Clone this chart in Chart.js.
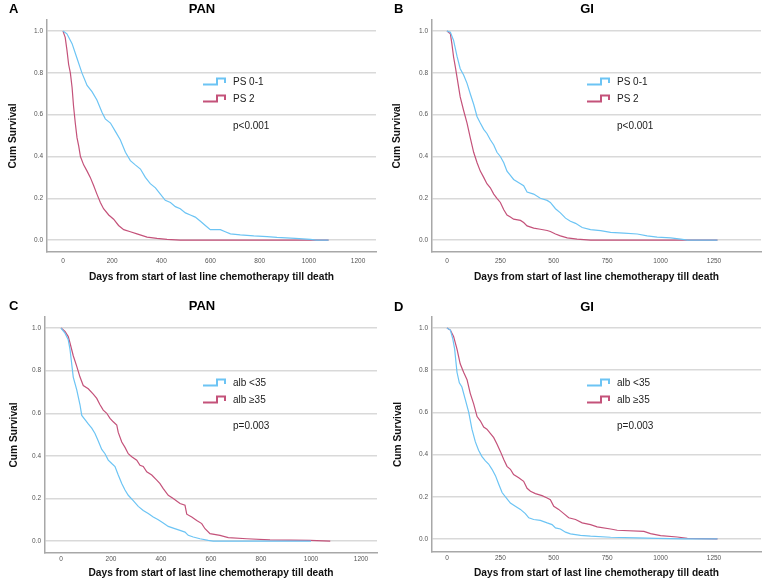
<!DOCTYPE html>
<html>
<head>
<meta charset="utf-8">
<script src="https://cdn.jsdelivr.net/npm/chart.js@4.4.0/dist/chart.umd.min.js"></script>
<style>
    body {
        margin: 0;
        width: 768px;
        height: 583px;
        overflow: hidden;
        position: relative;
        background: #ffffff;
        font-family: "Liberation Sans", Arial, sans-serif;
    }
    .panel { position: absolute; }
    .panel canvas { display: block; }
    .letter, .title {
        position: absolute;
        font-weight: bold;
        font-size: 13px;
        line-height: 16px;
        color: #000;
        white-space: nowrap;
    }
    .title { transform: translateX(-50%); }
</style>
</head>
<body>

<div class="panel" style="left:0;top:0"><canvas id="chartA" width="384" height="290"></canvas></div>
<div class="panel" style="left:384px;top:0"><canvas id="chartB" width="384" height="290"></canvas></div>
<div class="panel" style="left:0;top:290px"><canvas id="chartC" width="384" height="293"></canvas></div>
<div class="panel" style="left:384px;top:290px"><canvas id="chartD" width="384" height="293"></canvas></div>

<script>
// ---- data ----
const panelLetters = ["A", "B", "C", "D"];
const panelTitles = ["PAN", "GI", "PAN", "GI"];
const psLabels = ["PS 0-1", "PS 2"];
const albLabels = ["alb <35", "alb \u226535"];
const pValues = ["p<0.001", "p<0.001", "p=0.003", "p=0.003"];
const xAxisTitle = "Days from start of last line chemotherapy till death";
const yAxisTitle = "Cum Survival";

const panTicks = [0, 200, 400, 600, 800, 1000, 1200];
const giTicks = [0, 250, 500, 750, 1000, 1250];
const survivalTicks = [0, 0.2, 0.4, 0.6, 0.8, 1.0];

// A: PAN by PS
const panPs01Days = [0,16,37,57,77,98,118,138,159,172,193,213,233,254,274,294,315,335,355,376,396,416,437,457,477,498,518,538,559,579,599,640,660,681,721,776,830,870,945,1006,1030,1080];
const panPs01Surv = [1,0.987,0.94,0.87,0.80,0.74,0.71,0.67,0.61,0.58,0.56,0.52,0.48,0.42,0.38,0.36,0.34,0.30,0.27,0.25,0.22,0.19,0.18,0.16,0.15,0.13,0.12,0.11,0.09,0.07,0.05,0.05,0.04,0.03,0.025,0.02,0.017,0.013,0.008,0.003,0,0];
const panPs2Days = [0,9,16,23,30,37,43,50,57,64,71,84,98,111,125,138,152,165,186,206,226,247,274,301,342,382,423,477,1080];
const panPs2Surv = [1,0.97,0.91,0.84,0.80,0.73,0.64,0.56,0.49,0.45,0.40,0.36,0.33,0.30,0.26,0.22,0.18,0.15,0.12,0.10,0.07,0.05,0.04,0.03,0.014,0.008,0.003,0,0];

// B: GI by PS
const giPs01Days = [0,16,31,47,62,78,94,109,125,141,156,172,187,203,219,234,250,266,281,297,312,344,359,375,406,437,469,484,508,531,555,578,602,633,672,719,766,828,891,937,984,1047,1094,1125,1266];
const giPs01Surv = [1,0.995,0.955,0.88,0.82,0.79,0.75,0.70,0.65,0.59,0.56,0.53,0.51,0.48,0.455,0.42,0.40,0.37,0.33,0.31,0.29,0.27,0.26,0.23,0.22,0.20,0.19,0.18,0.15,0.13,0.105,0.09,0.08,0.06,0.05,0.045,0.037,0.033,0.029,0.02,0.014,0.011,0.005,0,0];
const giPs2Days = [0,16,23,31,39,47,62,78,94,109,125,141,156,172,187,203,219,234,250,266,281,297,312,344,359,375,406,437,469,484,508,531,563,609,672,1266];
const giPs2Surv = [1,0.987,0.94,0.876,0.83,0.78,0.685,0.62,0.56,0.49,0.42,0.37,0.33,0.30,0.27,0.25,0.22,0.20,0.18,0.145,0.12,0.11,0.10,0.094,0.084,0.068,0.057,0.052,0.046,0.041,0.029,0.02,0.011,0.005,0,0];

// C: PAN by albumin
const panAlbLowDays = [0,16,29,36,43,49,63,76,83,96,109,123,136,149,163,176,189,203,216,229,243,256,269,289,309,329,349,369,389,409,429,449,476,496,509,529,556,589,609,1000];
const panAlbLowSurv = [1,0.976,0.945,0.90,0.83,0.77,0.71,0.64,0.59,0.57,0.55,0.53,0.505,0.47,0.43,0.41,0.38,0.364,0.35,0.31,0.27,0.24,0.215,0.19,0.163,0.144,0.129,0.113,0.10,0.085,0.069,0.061,0.05,0.042,0.027,0.019,0.011,0.003,0,0];
const panAlbHighDays = [0,16,29,36,49,63,76,89,109,129,143,156,169,183,196,209,223,229,243,256,269,283,303,316,329,343,363,383,396,409,429,449,476,496,503,523,543,563,576,596,636,669,743,836,996,1077];
const panAlbHighSurv = [1,0.984,0.96,0.93,0.87,0.82,0.77,0.73,0.715,0.69,0.67,0.64,0.615,0.60,0.576,0.56,0.545,0.51,0.465,0.44,0.41,0.396,0.38,0.356,0.35,0.325,0.31,0.286,0.27,0.246,0.215,0.20,0.176,0.168,0.126,0.113,0.097,0.082,0.058,0.035,0.027,0.016,0.011,0.006,0.003,0];

// D: GI by albumin
const giAlbLowDays = [0,16,27,36,47,58,70,86,102,117,133,148,164,180,195,211,227,242,258,273,297,320,344,367,383,406,437,469,492,508,531,555,578,625,672,766,891,984,1109,1266];
const giAlbLowSurv = [1,0.99,0.95,0.90,0.79,0.74,0.72,0.66,0.60,0.52,0.46,0.42,0.39,0.37,0.355,0.33,0.30,0.26,0.22,0.20,0.17,0.155,0.14,0.12,0.10,0.092,0.088,0.076,0.068,0.052,0.047,0.032,0.024,0.017,0.013,0.008,0.005,0.003,0,0];
const giAlbHighDays = [0,16,31,47,62,78,94,109,125,141,156,172,187,203,219,234,250,266,281,297,312,336,359,375,391,414,445,469,484,500,523,547,570,602,633,672,703,766,797,922,953,1000,1078,1125,1266];
const giAlbHighSurv = [1,0.99,0.96,0.90,0.83,0.79,0.755,0.69,0.64,0.58,0.56,0.53,0.52,0.50,0.48,0.45,0.415,0.376,0.344,0.33,0.305,0.29,0.273,0.24,0.226,0.215,0.205,0.194,0.186,0.155,0.14,0.12,0.10,0.092,0.076,0.068,0.057,0.047,0.041,0.036,0.025,0.016,0.009,0.003,0];

const BLUE = "#6cc4f4";
const RED = "#c4527a";
const FONT = '"Liberation Sans", Arial, sans-serif';

function toPoints(days, surv) {
    return days.map((d, i) => ({ x: d, y: surv[i] }));
}

// draws the SPSS-like step icons, labels and p value
const kmLegend = {
    id: "kmLegend",
    afterDatasetsDraw(chart, args, o) {
        const ctx = chart.ctx;
        ctx.save();
        ctx.font = "10px " + FONT;
        ctx.textBaseline = "middle";
        chart.data.datasets.forEach((ds, i) => {
            const cy = o.rows[i];
            ctx.strokeStyle = ds.borderColor;
            ctx.lineWidth = 2;
            ctx.beginPath();
            ctx.moveTo(o.x, cy + 2.5);
            ctx.lineTo(o.x + 14, cy + 2.5);
            ctx.lineTo(o.x + 14, cy - 3.5);
            ctx.lineTo(o.x + 22, cy - 3.5);
            ctx.lineTo(o.x + 22, cy + 1);
            ctx.stroke();
            ctx.fillStyle = "#222";
            ctx.fillText(ds.label, o.x + 30, cy);
        });
        ctx.fillStyle = "#222";
        ctx.fillText(o.pText, o.x + 30, o.pY);
        ctx.restore();
    }
};

function createPanel(id, opt) {
    const ctx = document.getElementById(id);

    return new Chart(ctx, {
        type: "line",
        data: {
            datasets: [{
                label: opt.labels[0],
                data: toPoints(opt.days1, opt.surv1),
                borderColor: BLUE,
                borderWidth: 1.2,
                pointRadius: 0,
                tension: 0,
                fill: false
            }, {
                label: opt.labels[1],
                data: toPoints(opt.days2, opt.surv2),
                borderColor: RED,
                borderWidth: 1.2,
                pointRadius: 0,
                tension: 0,
                fill: false
            }]
        },
        options: {
            responsive: false,
            animation: false,
            events: [],
            layout: {
                padding: { left: 0, top: opt.top, right: opt.right, bottom: 0 }
            },
            plugins: {
                legend: { display: false },
                tooltip: { enabled: false },
                kmLegend: { x: 203, rows: opt.rows, pY: opt.pY, pText: opt.pText }
            },
            scales: {
                x: {
                    type: "linear",
                    min: opt.xMin,
                    max: opt.xMax,
                    afterBuildTicks: s => { s.ticks = opt.xTicks.map(v => ({ value: v })); },
                    afterFit: s => { s.height = opt.xHeight; },
                    grid: { display: false, drawTicks: false },
                    border: { color: "#a8a8a8", width: 1.5 },
                    ticks: {
                        color: "#555",
                        font: { size: 6.5, family: FONT },
                        padding: opt.xPad,
                        maxRotation: 0,
                        autoSkip: false,
                        callback: v => String(v)
                    },
                    title: {
                        display: true,
                        text: xAxisTitle,
                        color: "#111",
                        font: { size: 10.2, weight: "bold", family: FONT },
                        padding: { top: 0, bottom: opt.titlePad }
                    }
                },
                y: {
                    min: opt.yMin,
                    max: opt.yMax,
                    afterBuildTicks: s => { s.ticks = survivalTicks.map(v => ({ value: v })); },
                    afterFit: s => { s.width = opt.yWidth; },
                    grid: { color: "#d9d9d9", lineWidth: 1.5, drawTicks: false },
                    border: { color: "#a8a8a8", width: 1.5 },
                    ticks: {
                        color: "#555",
                        font: { size: 6.5, family: FONT },
                        padding: 4,
                        callback: v => v.toFixed(1)
                    },
                    title: {
                        display: true,
                        text: yAxisTitle,
                        color: "#111",
                        font: { size: 10.2, weight: "bold", family: FONT },
                        padding: { top: opt.yTitlePad, bottom: 0 }
                    }
                }
            }
        },
        plugins: [kmLegend]
    });
}

function addHeadings() {
    const spots = [
        { left: 9, center: 202, top: 1 },
        { left: 394, center: 587, top: 1 },
        { left: 9, center: 202, top: 298 },
        { left: 394, center: 587, top: 299 }
    ];
    spots.forEach((s, i) => {
        const letter = document.createElement("div");
        letter.className = "letter";
        letter.style.left = s.left + "px";
        letter.style.top = s.top + "px";
        letter.innerText = panelLetters[i];
        document.body.appendChild(letter);

        const title = document.createElement("div");
        title.className = "title";
        title.style.left = s.center + "px";
        title.style.top = s.top + "px";
        title.innerText = panelTitles[i];
        document.body.appendChild(title);
    });
}

addHeadings();

createPanel("chartA", {
    labels: psLabels, pText: pValues[0],
    days1: panPs01Days, surv1: panPs01Surv, days2: panPs2Days, surv2: panPs2Surv,
    xTicks: panTicks, xMin: -65, xMax: 1273, yMin: -0.057, yMax: 1.053,
    top: 20, right: 8, yWidth: 47, xHeight: 38, xPad: 5, titlePad: 7, yTitlePad: 7,
    rows: [82, 99], pY: 126
});

createPanel("chartB", {
    labels: psLabels, pText: pValues[1],
    days1: giPs01Days, surv1: giPs01Surv, days2: giPs2Days, surv2: giPs2Surv,
    xTicks: giTicks, xMin: -70, xMax: 1470, yMin: -0.057, yMax: 1.053,
    top: 20, right: 7, yWidth: 48, xHeight: 38, xPad: 5, titlePad: 7, yTitlePad: 7,
    rows: [82, 99], pY: 126
});

createPanel("chartC", {
    labels: albLabels, pText: pValues[2],
    days1: panAlbLowDays, surv1: panAlbLowSurv, days2: panAlbHighDays, surv2: panAlbHighSurv,
    xTicks: panTicks, xMin: -64, xMax: 1264, yMin: -0.056, yMax: 1.052,
    top: 27, right: 7, yWidth: 45, xHeight: 30, xPad: 2, titlePad: 4, yTitlePad: 8,
    rows: [93, 110], pY: 136
});

createPanel("chartD", {
    labels: albLabels, pText: pValues[3],
    days1: giAlbLowDays, surv1: giAlbLowSurv, days2: giAlbHighDays, surv2: giAlbHighSurv,
    xTicks: giTicks, xMin: -70, xMax: 1470, yMin: -0.062, yMax: 1.052,
    top: 27, right: 7, yWidth: 48, xHeight: 31, xPad: 2, titlePad: 4, yTitlePad: 8,
    rows: [93, 110], pY: 136
});
</script>
</body>
</html>
